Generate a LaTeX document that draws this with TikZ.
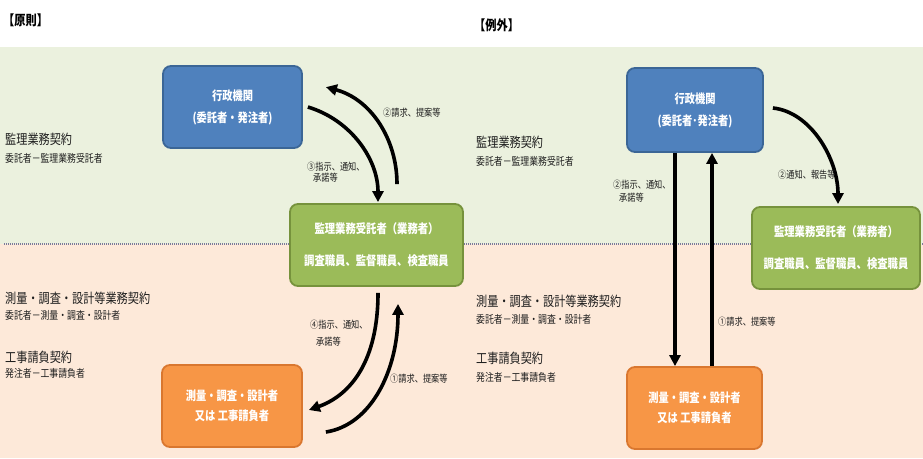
\documentclass[tikz,border=0pt]{standalone}
\usepackage{fontspec}
\setmainfont[FakeStretch=0.82]{Noto Sans CJK JP}
\usetikzlibrary{arrows.meta,calc}
\definecolor{bgG}{HTML}{EBF1DE}
\definecolor{bgP}{HTML}{FDE9D9}
\definecolor{blueF}{HTML}{4F81BD}
\definecolor{blueD}{HTML}{3B6696}
\definecolor{greenF}{HTML}{9BBB59}
\definecolor{greenD}{HTML}{76923C}
\definecolor{orangeF}{HTML}{F79646}
\definecolor{orangeD}{HTML}{D9772F}
\definecolor{txt}{HTML}{1E1E1E}
\definecolor{dotc}{HTML}{7A7A9A}
\begin{document}
\begin{tikzpicture}[x=1pt,y=-1pt,
  box/.style={rounded corners=8pt, line width=1.8pt, align=center, text=white,
    inner sep=0pt, minimum height=82pt},
  bluebox/.style={box, fill=blueF, draw=blueD, font=\bfseries\fontsize{12.5}{22}\selectfont},
  greenbox/.style={box, fill=greenF, draw=greenD, font=\bfseries\fontsize{12.6}{32}\selectfont},
  orangebox/.style={box, fill=orangeF, draw=orangeD, font=\bfseries\fontsize{12.5}{20}\selectfont},
  ttl/.style={anchor=west, inner sep=0pt, text=black, font=\bfseries\fontsize{13.7}{15}\selectfont},
  big/.style={anchor=west, inner sep=0pt, text=txt, font=\fontsize{13.6}{15}\selectfont},
  small/.style={anchor=west, inner sep=0pt, text=txt, font=\fontsize{10.8}{12}\selectfont},
  lab/.style={anchor=west, inner sep=0pt, text=txt, align=left, font=\fontsize{10}{#1}\selectfont},
  lab/.default=11,
  arr/.style={line width=3.6pt, black, -{Triangle[length=11pt,width=11pt]}},
  dotline/.style={dotc, line width=1.3pt, dash pattern=on 1pt off 1pt}
]
\useasboundingbox (0,0) rectangle (923,458);
\fill[white] (0,0) rectangle (923,458);
\fill[bgG] (0,47) rectangle (923,244);
\fill[bgP] (0,244) rectangle (923,458);
\draw[dotline] (4,244) -- (923,244);

% titles
\node[ttl] (t1) at (3,20) {【原則】};
\node[ttl] (t2) at (474,25) {【例外】};

% left side labels
\node[big] (l1) at (5,139) {監理業務契約};
\node[small] (l2) at (5,158) {委託者－監理業務受託者};
\node[big] (l3) at (5,298) {測量・調査・設計等業務契約};
\node[small] (l4) at (5,315) {委託者－測量・調査・設計者};
\node[big] (l5) at (5,357) {工事請負契約};
\node[small] (l6) at (5,373) {発注者－工事請負者};

\node[big] (r1) at (476,142) {監理業務契約};
\node[small] (r2) at (476,161) {委託者－監理業務受託者};
\node[big] (r3) at (476,301) {測量・調査・設計等業務契約};
\node[small] (r4) at (476,319) {委託者－測量・調査・設計者};
\node[big] (r5) at (476,358) {工事請負契約};
\node[small] (r6) at (476,377) {発注者－工事請負者};

% left boxes
\node[bluebox, minimum width=139pt] (b1) at (232.5,107) {行政機関\\(委託者・発注者)};
\node[greenbox, minimum width=173pt] (g1) at (376.5,245) {監理業務受託者（業務者）\\調査職員、監督職員、検査職員};
\node[orangebox, minimum width=140pt] (o1) at (232,406) {測量・調査・設計者\\又は 工事請負者};

% right boxes
\node[bluebox, minimum width=136pt, minimum height=84pt] (b2) at (695,110) {行政機関\\(委託者･発注者)};
\node[greenbox, minimum width=168pt] (g2) at (836,248) {監理業務受託者（業務者）\\調査職員、監督職員、検査職員};
\node[orangebox, minimum width=135pt] (o2) at (694.5,408) {測量・調査・設計者\\又は 工事請負者};

% left connectors
\draw[arr] ($(b1.east)+(5,0)$) .. controls +(43,13) and +(0,-43) .. ($(g1.north)+(1.5,-1)$);
\draw[arr] ($(g1.north)+(20.5,-19)$) .. controls +(0,-45) and +(45,12) .. ($(b1.north east)+(23,22)$);
\draw[arr] ($(g1.south)+(1.5,6)$) .. controls +(0,68) and +(42,-15) .. ($(o1.east)+(6,4)$);
\draw[arr] ($(o1.east)+(23,26)$) .. controls +(45,-7) and +(0,67) .. ($(g1.south)+(21.5,17)$);

% left labels
\node[lab] (a2) at (383,113) {②請求、提案等};
\node[lab=10.5] (a3) at (307,172) {③指示、通知、\\\hspace{6pt}承諾等};
\node[lab=17] (a4) at (310,333) {④指示、通知、\\\hspace{6pt}承諾等};
\node[lab] (a1) at (390,379) {①請求、提案等};

% right connectors
\draw[arr] ($(b2.south)+(-20,0)$) -- ($(o2.north)+(-19.5,0)$);
\draw[arr] ($(o2.north)+(17.5,0)$) -- ($(b2.south)+(17,0)$);
\draw[arr] ($(b2.east)+(9,-2)$) .. controls +(38,4) and +(0,-45) .. ($(g2.north)+(2,-2)$);

% right labels
\node[lab=13] (c2) at (613,191) {②指示、通知、\\\hspace{6pt}承諾等};
\node[lab] (c1) at (718,322) {①請求、提案等};
\node[lab] (c3) at (778,175) {②通知、報告等};
\end{tikzpicture}
\end{document}
